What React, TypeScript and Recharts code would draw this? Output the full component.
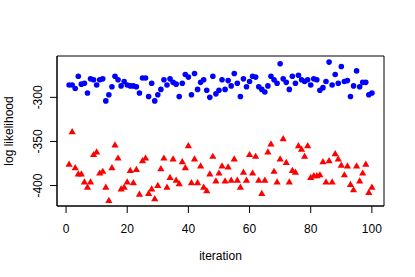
import { ScatterChart, Scatter, XAxis, YAxis, ReferenceArea } from 'recharts';

const iterationTicks = [0, 20, 40, 60, 80, 100];
const llTicks = [-400, -350, -300];
const xDomain: [number, number] = [-2.96, 103.96];
const yDomain: [number, number] = [-423.2, -253.1];

// blue chain (upper), one value per iteration 1..100
const blueLL = [
  -286, -286, -290, -276, -285, -284, -295, -279, -280, -286,
  -280, -279, -304, -297, -288, -276, -280, -287, -282, -286,
  -287, -287, -288, -295, -278, -278, -299, -284, -304, -297,
  -291, -280, -286, -279, -283, -285, -299, -284, -274, -277,
  -297, -273, -291, -283, -280, -292, -300, -276, -296, -292,
  -280, -291, -281, -287, -273, -284, -299, -279, -288, -282,
  -276, -277, -288, -291, -294, -287, -276, -280, -284, -262,
  -279, -283, -291, -276, -284, -275, -280, -282, -280, -286,
  -279, -280, -292, -289, -282, -260, -286, -274, -284, -265,
  -282, -281, -299, -287, -270, -288, -283, -283, -297, -295,
];

// red chain (lower)
const redLL = [
  -376, -339, -380, -387, -387, -396, -402, -396, -365, -362,
  -386, -384, -402, -417, -380, -354, -369, -404, -402, -396,
  -383, -397, -382, -410, -372, -369, -409, -404, -415, -400,
  -381, -369, -402, -391, -370, -394, -398, -373, -380, -355,
  -397, -370, -397, -378, -402, -406, -387, -367, -395, -386,
  -378, -395, -379, -394, -370, -394, -402, -385, -394, -365,
  -386, -367, -394, -409, -394, -362, -353, -384, -396, -370,
  -347, -374, -396, -383, -385, -355, -359, -367, -355, -391,
  -389, -389, -388, -373, -396, -372, -396, -364, -370, -377,
  -388, -378, -399, -405, -378, -395, -386, -376, -408, -402,
];

const blueData = blueLL.map((v, i) => ({ it: i + 1, ll: v }));
const redData = redLL.map((v, i) => ({ it: i + 1, ll: v }));

const FONT = '"Liberation Sans", Arial, Helvetica, sans-serif';

const Dot = (p: any) => <circle cx={p.cx} cy={p.cy} r={2.8} fill="#0000FF" />;
const Tri = (p: any) => (
  <polygon
    points={`${p.cx},${p.cy - 3.8} ${p.cx - 3.6},${p.cy + 2.4} ${p.cx + 3.6},${p.cy + 2.4}`}
    fill="#FF0000"
  />
);

const YTick = (p: any) => (
  <text
    transform={`translate(${p.x},${p.y}) rotate(-90)`}
    textAnchor="middle"
    fontSize={12}
    fontFamily={FONT}
    fill="#000"
  >
    {p.payload.value}
  </text>
);

const YLabel = (p: any) => {
  const vb = p.viewBox || {};
  const cy = (vb.y ?? 56) + (vb.height ?? 150) / 2;
  return (
    <text
      transform={`translate(13,${cy}) rotate(-90)`}
      textAnchor="middle"
      fontSize={12}
      fontFamily={FONT}
      fill="#000"
    >
      log likelihood
    </text>
  );
};

export default function App() {
  return (
    <div style={{ position: 'fixed', left: 0, top: 0, background: '#fff' }}>
      <ScatterChart width={415} height={277} margin={{ top: 56, right: 31, bottom: 0, left: 0 }}>
        <XAxis
          dataKey="it"
          type="number"
          domain={xDomain}
          ticks={iterationTicks}
          allowDataOverflow
          height={71}
          tickSize={7}
          tickMargin={11}
          axisLine={{ stroke: '#000' }}
          tickLine={{ stroke: '#000' }}
          tick={{ fill: '#000', fontSize: 12, fontFamily: FONT }}
          label={{ value: 'iteration', position: 'insideBottom', offset: 17, fill: '#000', fontSize: 12, fontFamily: FONT }}
        />
        <YAxis
          dataKey="ll"
          type="number"
          domain={yDomain}
          ticks={llTicks}
          allowDataOverflow
          width={57}
          tickSize={7}
          tickMargin={8}
          axisLine={{ stroke: '#000' }}
          tickLine={{ stroke: '#000' }}
          tick={<YTick />}
          label={<YLabel />}
        />
        <ReferenceArea
          x1={xDomain[0]}
          x2={xDomain[1]}
          y1={yDomain[0]}
          y2={yDomain[1]}
          fill="none"
          fillOpacity={0}
          stroke="#000"
          strokeOpacity={1}
          ifOverflow="visible"
        />
        <Scatter data={blueData} dataKey="ll" shape={<Dot />} isAnimationActive={false} />
        <Scatter data={redData} dataKey="ll" shape={<Tri />} isAnimationActive={false} />
      </ScatterChart>
    </div>
  );
}
